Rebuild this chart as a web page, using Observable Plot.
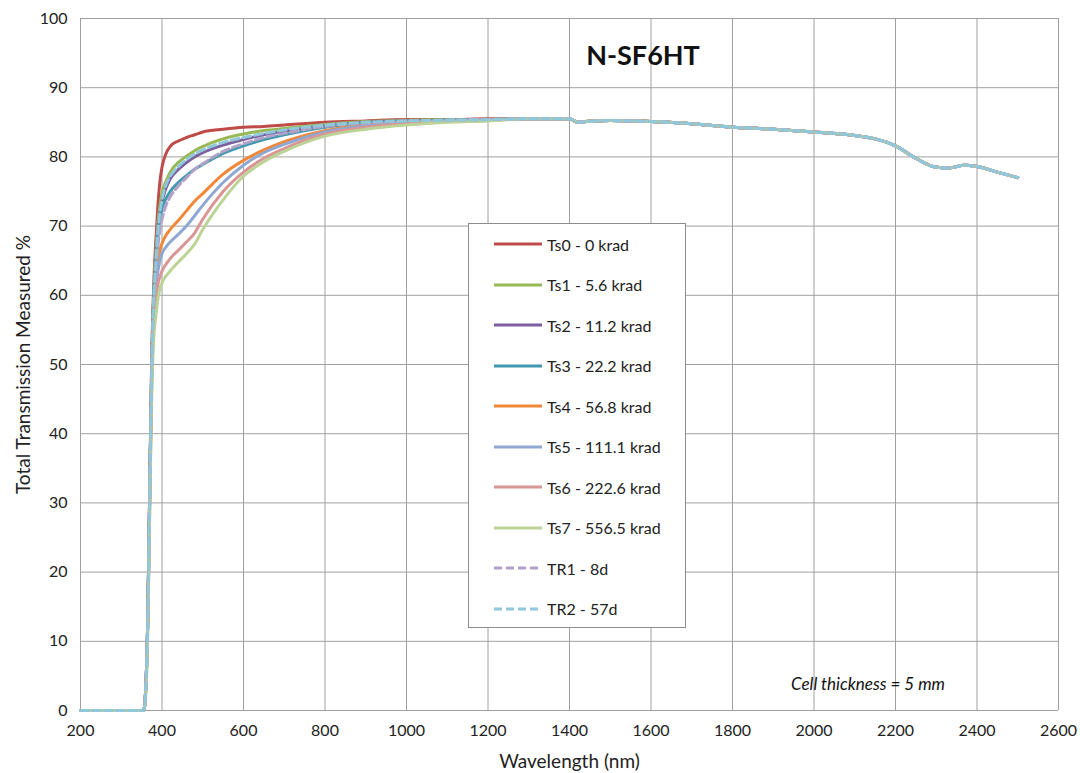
<!DOCTYPE html>
<html>
<head>
<meta charset="utf-8">
<script src="https://cdn.jsdelivr.net/npm/d3@7"></script>
<script src="https://cdn.jsdelivr.net/npm/@observablehq/plot@0.6"></script>
<style>
  body { margin: 0; background: #fff; font-family: Lato, "Open Sans", sans-serif; }
  #wrap { position: relative; width: 1080px; height: 773px; }
  #title { position: absolute; left: 543px; width: 200px; top: 38px; text-align: center; font-weight: bold; font-size: 27px; color: #111; }
  #note { position: absolute; left: 758px; width: 220px; top: 673px; text-align: center; font-style: italic; font-size: 17px; color: #111; }
  #legend { position: absolute; left: 468px; top: 223px; width: 218px; height: 405px; background: #fff; border: 1px solid #8c8c8c; box-sizing: border-box; }
  .row { position: absolute; left: 25px; height: 20px; display: flex; align-items: center; font-size: 16px; color: #222; white-space: nowrap; }
  .row svg { margin-right: 5px; }
</style>
</head>
<body>
<div id="wrap">
  <div id="chart"></div>
  <div id="title">N-SF6HT</div>
  <div id="note">Cell thickness = 5 mm</div>
  <div id="legend"></div>
</div>
<script>
// Wavelength grid (nm) for the part where the series differ
const headWl = [200, 355, 360, 365, 370, 375, 380, 385, 390, 395, 400, 410, 420, 440, 460, 480, 500, 550, 600, 650, 700, 800, 900, 1000, 1100, 1200, 1300];
const Ts0 = [0,0,3,13,33,52,62,68,73,76.5,78.5,80.5,81.5,82.3,82.8,83.2,83.6,84.0,84.3,84.4,84.6,85.0,85.2,85.4,85.4,85.5,85.5];
const Ts1 = [0,0,3,13,32,51,61,66,70.5,73,74.8,76.5,77.8,79.2,80.1,80.9,81.5,82.6,83.3,83.8,84.1,84.7,85.1,85.3,85.4,85.4,85.5];
const Ts2 = [0,0,3,13,32,50,60,65,69.5,72,73.5,75.5,76.8,78.2,79.2,80,80.6,81.7,82.5,83.2,83.7,84.5,85.0,85.2,85.3,85.4,85.5];
const Ts3 = [0,0,3,13,32,50,60,64,68.5,71,72.5,74,75,76.3,77.3,78.2,78.9,80.5,81.6,82.5,83.2,84.3,84.9,85.1,85.3,85.4,85.5];
const Ts4 = [0,0,3,13,32,50,59,62,64.5,66.5,67.5,68.7,69.5,70.8,72.2,73.6,74.7,77.5,79.5,81,82.2,83.8,84.6,85.0,85.2,85.4,85.5];
const Ts5 = [0,0,3,13,31,49,58,61,63.5,65,66,67,67.7,68.8,70,71.5,73,76.3,78.8,80.6,81.8,83.6,84.5,84.9,85.2,85.4,85.5];
const Ts6 = [0,0,3,12,30,48,56,59,61.5,62.7,63.5,64.5,65.3,66.5,67.7,69,71,75,77.8,79.8,81.2,83.3,84.3,84.8,85.1,85.3,85.5];
const Ts7 = [0,0,2,11,29,46,54,57,59.5,61,61.8,62.8,63.5,64.8,66,67.4,69.5,73.8,77.2,79.3,80.8,83.0,84.0,84.6,85.0,85.2,85.5];
const TR1 = [0,0,3,13,32,50,59,63,67,69.5,71,73,74.2,75.8,77,78.2,79,80.8,81.9,82.8,83.4,84.4,84.9,85.2,85.3,85.4,85.5];
const TR2 = [0,0,3,13,32,50,60,65,69.5,72,73.8,76,77.2,78.6,79.6,80.4,81,82.1,82.8,83.4,83.9,84.6,85.0,85.2,85.3,85.4,85.5];
// Shared tail (all series coincide)
const tailWl = [1400, 1420, 1440, 1500, 1600, 1700, 1800, 1900, 2000, 2100, 2150, 2200, 2250, 2300, 2330, 2370, 2400, 2450, 2500];
const tailT  = [85.5, 85.0, 85.1, 85.25, 85.1, 84.8, 84.3, 84.0, 83.6, 83.1, 82.6, 81.6, 79.8, 78.5, 78.4, 78.8, 78.6, 77.8, 77.0];

const names  = ["Ts0 - 0 krad","Ts1 - 5.6 krad","Ts2 - 11.2 krad","Ts3 - 22.2 krad","Ts4 - 56.8 krad","Ts5 - 111.1 krad","Ts6 - 222.6 krad","Ts7 - 556.5 krad","TR1 - 8d","TR2 - 57d"];
const colors = ["#BE4B48","#98B954","#7D5FA0","#4198AF","#F0883A","#8FA8D3","#D99694","#BCD396","#B3A2C7","#8EC8DA"];
const dashed = [false,false,false,false,false,false,false,false,true,true];
const seriesVals = [Ts0,Ts1,Ts2,Ts3,Ts4,Ts5,Ts6,Ts7,TR1,TR2];

const data = seriesVals.flatMap((vals, i) => [
  ...headWl.map((w, j) => ({name: names[i], w, t: vals[j]})),
  ...tailWl.map((w, j) => ({name: names[i], w, t: tailT[j]}))
]);

const lineMarks = names.map((n, i) => Plot.line(data.filter(d => d.name === n), {
  x: "w", y: "t", stroke: colors[i], strokeWidth: 3,
  strokeDasharray: dashed[i] ? "8,4" : null, curve: "monotone-x"
}));

const chart = Plot.plot({
  width: 1080, height: 773,
  marginLeft: 80, marginRight: 22, marginTop: 18, marginBottom: 63,
  style: {fontFamily: "Lato, 'Open Sans', sans-serif", fontSize: "16px", color: "#222", background: "#fff"},
  x: {domain: [200, 2600], ticks: d3.range(200, 2601, 200), tickFormat: d => String(d), label: "Wavelength (nm)"},
  y: {domain: [0, 100], ticks: d3.range(0, 101, 10), tickFormat: d => String(d), label: "Total Transmission Measured %"},
  marks: [
    Plot.gridX(d3.range(200, 2601, 200), {stroke: "#a0a0a0", strokeOpacity: 1, strokeWidth: 1}),
    Plot.gridY(d3.range(0, 101, 10), {stroke: "#a0a0a0", strokeOpacity: 1, strokeWidth: 1}),
    Plot.axisX({ticks: d3.range(200, 2601, 200), tickSize: 0, tickPadding: 14, tickFormat: d => String(d), fontSize: 16,
      label: "Wavelength (nm)", labelAnchor: "center", labelArrow: "none", labelOffset: 57}),
    Plot.axisY({ticks: d3.range(0, 101, 10), tickSize: 0, tickPadding: 13, tickFormat: d => String(d), fontSize: 16,
      label: "Total Transmission Measured %", labelAnchor: "center", labelArrow: "none", labelOffset: 64}),
    ...lineMarks
  ]
});
chart.querySelectorAll("g[aria-label='x-axis label'] text, g[aria-label='y-axis label'] text").forEach(t => t.setAttribute("font-size", "19"));
document.getElementById("chart").appendChild(chart);

// Legend
const leg = document.getElementById("legend");
names.forEach((n, i) => {
  const row = document.createElement("div");
  row.className = "row";
  row.style.top = (10 + i * 40.5) + "px";
  row.innerHTML = `<svg width="48" height="6"><line x1="0" x2="48" y1="3" y2="3" stroke="${colors[i]}" stroke-width="3" ${dashed[i] ? 'stroke-dasharray="8,4"' : ''}/></svg><span>${n}</span>`;
  leg.appendChild(row);
});
</script>
</body>
</html>
